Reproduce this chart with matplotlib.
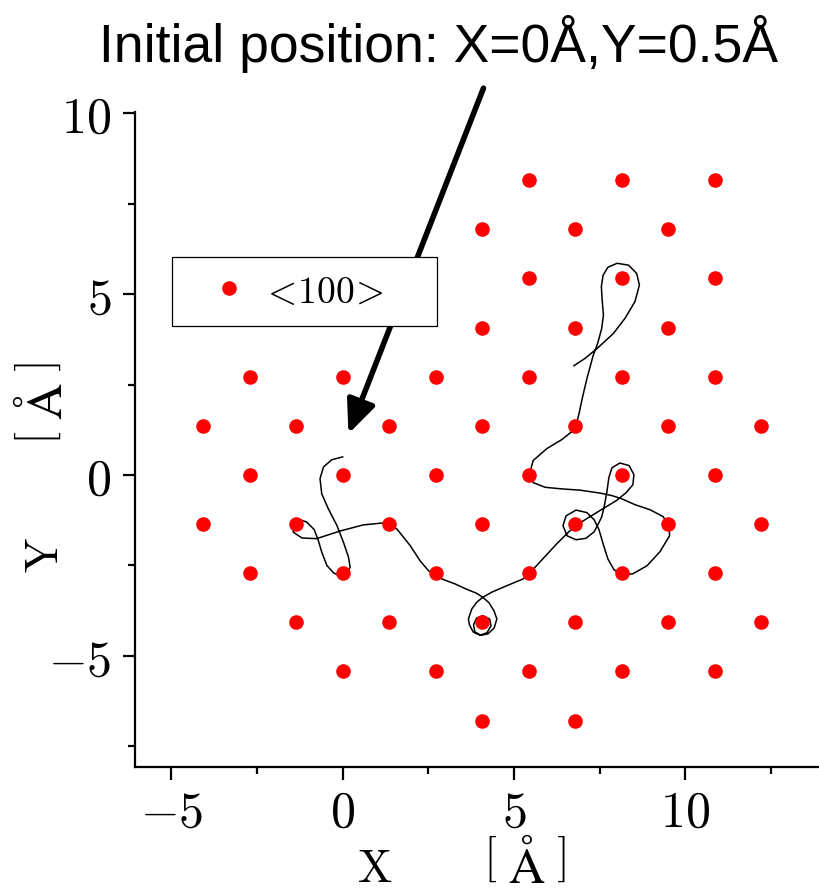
import numpy as np
import matplotlib
matplotlib.use("Agg")
import matplotlib.pyplot as plt

plt.rcParams['mathtext.fontset'] = 'cm'

# lattice sites <100>, listed row by row (top to bottom)
site_x = [5.43, 8.14, 10.86,
          4.07, 6.79, 9.50,
          5.43, 8.14, 10.86,
          4.07, 6.79, 9.50,
          -2.71, 0.0, 2.71, 5.43, 8.14, 10.86,
          -4.07, -1.36, 1.36, 4.07, 6.79, 9.50, 12.21,
          -2.71, 0.0, 2.71, 5.43, 8.14, 10.86,
          -4.07, -1.36, 1.36, 4.07, 6.79, 9.50, 12.21,
          -2.71, 0.0, 2.71, 5.43, 8.14, 10.86,
          -1.36, 1.36, 4.07, 6.79, 9.50, 12.21,
          0.0, 2.71, 5.43, 8.14, 10.86,
          4.07, 6.79]
site_y = [8.14] * 3 + [6.79] * 3 + [5.43] * 3 + [4.07] * 3 + \
         [2.71] * 6 + [1.36] * 7 + [0.0] * 6 + [-1.36] * 7 + \
         [-2.71] * 6 + [-4.07] * 6 + [-5.43] * 5 + [-6.79] * 2

# trajectory
traj_x = [0.0, -0.32, -0.56, -0.66, -0.61, -0.42, -0.17, 0.02, 0.17, 0.22,
          0.12, -0.08, -0.27, -0.46, -0.61, -0.71, -0.83, -1.05, -1.26, -1.44,
          -1.44, -1.19, -0.76, -0.08, 0.60, 1.24, 1.58, 1.97, 2.26, 2.50,
          2.70, 2.94, 3.28, 3.60, 3.91, 4.09, 4.27, 4.42, 4.50, 4.42,
          4.24, 4.04, 3.86, 3.82, 3.91, 4.10, 4.29, 4.33, 4.21, 4.01,
          3.81, 3.70, 3.67, 3.77, 3.92, 4.09, 4.35, 4.79, 5.27, 5.42,
          5.76, 6.25, 6.59, 6.81, 7.22, 7.60, 8.00, 8.27, 8.47, 8.50,
          8.36, 8.09, 7.86, 7.77, 7.71, 7.64, 7.56, 7.46, 7.34, 7.10,
          6.81, 6.55, 6.43, 6.52, 6.81, 7.13, 7.34, 7.48, 7.60, 7.74,
          7.92, 8.17, 8.47, 8.88, 9.26, 9.54, 9.53, 9.35, 8.97, 8.53,
          8.15, 7.86, 7.51, 6.93, 6.34, 5.91, 5.56, 5.44, 5.56, 5.96,
          6.40, 6.69, 6.81, 6.90, 6.99, 7.13, 7.31, 7.44, 7.56, 7.61,
          7.57, 7.55, 7.60, 7.74, 8.01, 8.34, 8.58, 8.66, 8.53, 8.24,
          7.90, 7.43, 7.07, 6.75]
traj_y = [0.5, 0.42, 0.22, -0.10, -0.52, -0.93, -1.39, -1.85, -2.27, -2.55,
          -2.71, -2.80, -2.70, -2.50, -2.13, -1.81, -1.51, -1.30, -1.23, -1.35,
          -1.58, -1.74, -1.76, -1.55, -1.38, -1.32, -1.49, -1.95, -2.37, -2.64,
          -2.78, -2.89, -3.01, -3.15, -3.27, -3.38, -3.53, -3.76, -3.98, -4.23,
          -4.39, -4.43, -4.34, -4.14, -3.95, -3.89, -3.98, -4.17, -4.36, -4.43,
          -4.34, -4.14, -3.98, -3.70, -3.51, -3.38, -3.24, -3.06, -2.87, -2.75,
          -2.40, -1.90, -1.58, -1.39, -1.15, -0.93, -0.70, -0.49, -0.27, 0.01,
          0.26, 0.33, 0.20, -0.07, -0.47, -0.84, -1.16, -1.35, -1.57, -1.75,
          -1.79, -1.68, -1.40, -1.13, -0.97, -1.04, -1.24, -1.51, -1.90, -2.32,
          -2.62, -2.76, -2.73, -2.51, -2.12, -1.68, -1.40, -1.15, -0.96, -0.82,
          -0.66, -0.57, -0.50, -0.42, -0.38, -0.34, -0.21, -0.02, 0.40, 0.73,
          0.98, 1.20, 1.36, 1.70, 2.11, 2.67, 3.30, 3.63, 4.05, 4.42,
          4.88, 5.21, 5.52, 5.74, 5.85, 5.80, 5.57, 5.25, 4.79, 4.33,
          3.91, 3.50, 3.22, 3.02]

xticks = [-5, 0, 5, 10]
yticks = [-5, 0, 5, 10]
legend_label = r'$<\!100\!>$'
title = u'Initial position: X=0\u00c5,Y=0.5\u00c5'
unit = r'$\left[\;\mathrm{\AA}\;\right]$'

fig = plt.figure(figsize=(8.2, 8.95), dpi=100)
ax = fig.add_axes([0.1646, 0.1419, 0.8354, 0.7318])

ax.plot(traj_x, traj_y, '-', color='black', lw=1.1, zorder=2,
        solid_joinstyle='round')
ax.plot(site_x, site_y, 'o', color='red', markersize=10.5, markeredgewidth=0,
        label=legend_label, zorder=3)

ax.set_xlim(-6.06, 13.93)
ax.set_ylim(-8.07, 10.03)

for s in ['top', 'right']:
    ax.spines[s].set_visible(False)
for s in ['left', 'bottom']:
    ax.spines[s].set_linewidth(1.6)

ax.set_xticks(xticks)
ax.set_xticklabels([r'$%d$' % t for t in xticks])
ax.set_yticks(yticks)
ax.set_yticklabels([r'$%d$' % t for t in yticks])
ax.set_xticks([-2.5, 2.5, 7.5, 12.5], minor=True)
ax.set_yticks([-7.5, -2.5, 2.5, 7.5], minor=True)
ax.tick_params(which='major', direction='out', length=9, width=1.6,
               labelsize=36)
ax.tick_params(axis='x', which='major', pad=6)
ax.tick_params(axis='y', which='major', pad=8)
ax.tick_params(which='minor', direction='out', length=5, width=1.6)

# axis labels: letter and unit set apart, as in the original
ax.text(0.350, -0.155, r'$\mathrm{X}$', transform=ax.transAxes,
        fontsize=33, ha='center', va='center')
ax.text(0.569, -0.150, unit, transform=ax.transAxes,
        fontsize=36, ha='center', va='center')
ax.text(-0.130, 0.325, r'$\mathrm{Y}$', transform=ax.transAxes,
        fontsize=33, ha='center', va='center', rotation=90)
ax.text(-0.130, 0.556, unit, transform=ax.transAxes,
        fontsize=36, ha='center', va='center', rotation=90)

leg = ax.legend(loc='upper left', bbox_to_anchor=(0.0535, 0.0, 0.388, 0.778),
                mode='expand', borderaxespad=0, fontsize=27, frameon=True,
                fancybox=False, framealpha=1, edgecolor='black',
                handlelength=2.2, handletextpad=-0.25, borderpad=0.43)
leg.get_frame().set_linewidth(0.9)

ax.annotate('', xy=(0.17, 1.14), xytext=(4.11, 10.69),
            arrowprops=dict(arrowstyle='-|>,head_length=0.8,head_width=0.35',
                            color='black', lw=4, mutation_scale=25,
                            shrinkA=0, shrinkB=0),
            annotation_clip=False, zorder=5)

fig.text(439 / 820, 1 - 62 / 895, title, ha='center', va='baseline',
         fontsize=38.5, family='Liberation Sans')

fig.savefig('out.png', dpi=100)
